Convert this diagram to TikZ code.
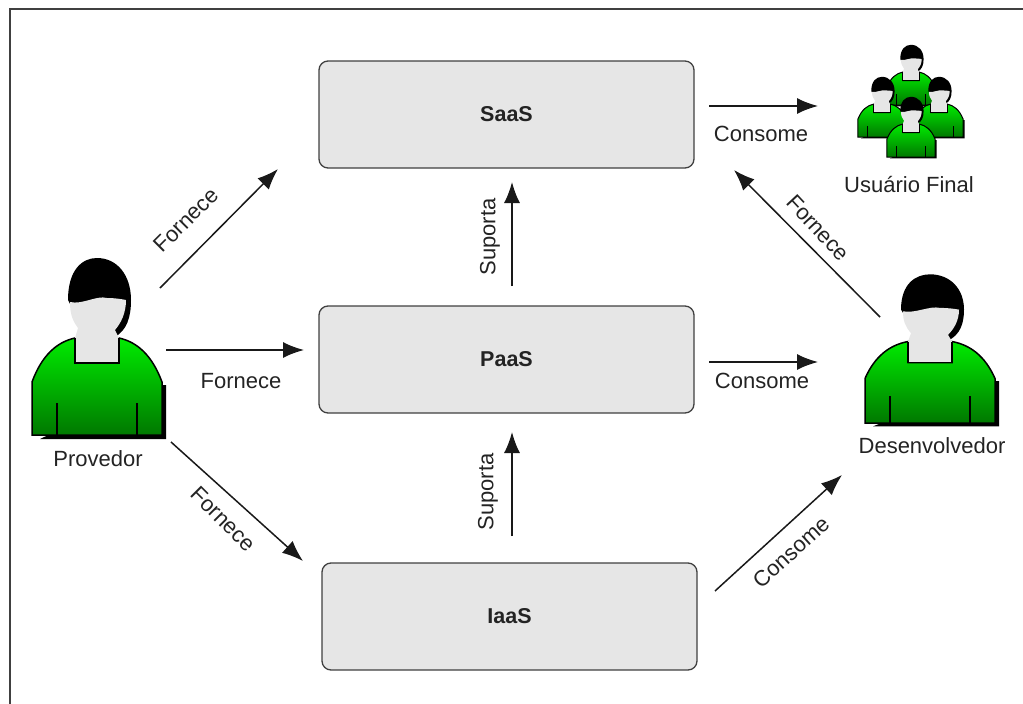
\documentclass[tikz,border=0pt]{standalone}
\usepackage{fontspec}
\setmainfont{Liberation Sans}
\usetikzlibrary{arrows.meta}
\usetikzlibrary{positioning}
\definecolor{gtop}{RGB}{0,235,0}
\definecolor{gbot}{RGB}{0,120,0}
\definecolor{bxfill}{RGB}{230,230,230}
\definecolor{txt}{RGB}{35,35,35}
\tikzset{
pics/pessoa/.style={code={
\fill[black] (-57,4) -- (69,4) -- (69,-50) -- (57,-50) -- cycle;
\fill[black] (-29,-135) .. controls (-29,-165) and (-15,-177) .. (0,-177) .. controls (20,-177) and (34,-160) .. (34,-135) .. controls (34,-118) and (30,-105) .. (18,-98) -- (-10,-98) -- cycle;
\draw[line width=#1,top color=gtop,bottom color=gbot] (-65,0) -- (-65,-53) .. controls (-55,-80) and (-40,-93) .. (-22,-97) -- (-22,-72) -- (22,-72) -- (22,-97) .. controls (40,-93) and (55,-80) .. (65,-53) -- (65,0) -- cycle;
\draw[line width=#1] (-40,0) -- (-40,-32) (40,0) -- (40,-32);
\fill[bxfill] (-22,-72) -- (-22,-97) -- (-19,-107) .. controls (-25,-115) and (-27,-122) .. (-27,-133) .. controls (-15,-130) and (0,-140) .. (10,-137) .. controls (18,-137) and (24,-136) .. (29,-135) .. controls (29,-122) and (24,-112) .. (18,-105) -- (22,-97) -- (22,-72) -- cycle;
\draw[line width=#1] (-22,-97) -- (-22,-72) -- (22,-72) -- (22,-97);
}},
bx/.style={draw=black!75,line width=1.3pt,fill=bxfill,rounded corners=9pt,minimum width=375pt,minimum height=107pt,font=\bfseries\fontsize{21.5}{25}\selectfont,text=txt},
ar/.style={line width=1.5pt,draw=black!90,-{Latex[length=21pt,width=16pt]}},
lb/.style={font=\fontsize{22}{26}\selectfont,text=txt,inner sep=0pt}
}
\begin{document}
\begin{tikzpicture}[x=1pt,y=-1pt]
\useasboundingbox (0,0) rectangle (1023,704);
% moldura
\coordinate (m1) at (10,704);
\coordinate (m2) at (10,9);
\coordinate (m3) at (1023,9);
\draw[line width=2pt,black!75] (m1) -- (m2) -- (m3);
% camadas
\foreach \n/\x/\y/\t in {saas/506.5/114.5/SaaS, paas/506.5/359.5/PaaS, iaas/509.5/616.5/IaaS} {
\node (\n) at (\x,\y) [bx] {\t};
}
% atores
\pic at (97,435) {pessoa=1.5pt};
\pic[yscale=.84] at (930,423) {pessoa=1.5pt};
\pic[xscale=.37,yscale=.34] at (911,105) {pessoa=1pt};
\pic[xscale=.37,yscale=.34] at (882,137) {pessoa=1pt};
\pic[xscale=.37,yscale=.34] at (939,137) {pessoa=1pt};
\pic[xscale=.37,yscale=.34] at (911,157) {pessoa=1pt};
\node (prov) at (98,459) [lb] {Provedor};
\node (dev) at (932,446) [lb] {Desenvolvedor};
\node (user) at (909,185) [lb] {Usuário Final};
% pontas livres
\coordinate (p1) at (160,288); \coordinate (s1) at (278,169);
\coordinate (p2) at (166,350); \coordinate (a1) at (304,350);
\coordinate (p3) at (171,442); \coordinate (i1) at (303,561);
\coordinate (a2) at (512,286); \coordinate (s2) at (512,182);
\coordinate (i2) at (512,536); \coordinate (a3) at (512,432);
\coordinate (s3) at (709,106); \coordinate (u1) at (818,106);
\coordinate (a4) at (709,362); \coordinate (d1) at (818,362);
\coordinate (i3) at (715,591); \coordinate (d2) at (842,475);
\coordinate (d3) at (880,317); \coordinate (s4) at (734,170);
\draw[ar] (p1) -- (s1);
\draw[ar] (p2) -- (a1);
\draw[ar] (p3) -- (i1);
\draw[ar] (a2) -- (s2);
\draw[ar] (i2) -- (a3);
\draw[ar] (s3) -- (u1);
\draw[ar] (a4) -- (d1);
\draw[ar] (i3) -- (d2);
\draw[ar] (d3) -- (s4);
% rotulos
\node (f1) at (186,220) [lb,rotate=45] {Fornece};
\node (f2) at (241,381) [lb] {Fornece};
\node (f3) at (223,519) [lb,rotate=-45] {Fornece};
\node (f4) at (818,228) [lb,rotate=-47] {Fornece};
\node (t1) at (490,237) [lb,rotate=90] {Suporta};
\node (t2) at (488,492) [lb,rotate=90] {Suporta};
\node (c1) at (761,134) [lb] {Consome};
\node (c2) at (762,381) [lb] {Consome};
\node (c3) at (791,552) [lb,rotate=42] {Consome};
\end{tikzpicture}
\end{document}
